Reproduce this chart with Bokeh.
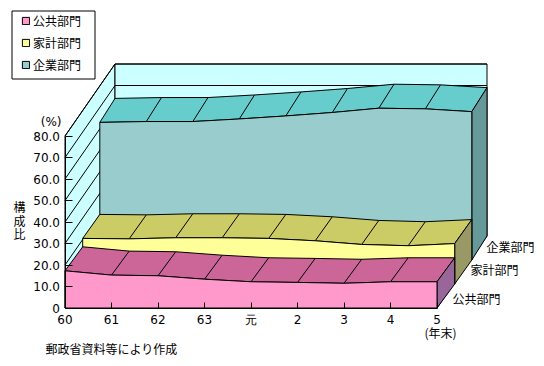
from bokeh.plotting import figure
from bokeh.models import Legend, LegendItem, Label, FixedTicker, LinearAxis
from bokeh.embed import file_html
from bokeh.resources import INLINE

years = ["60", "61", "62", "63", "元", "2", "3", "4", "5"]
public = [17.3, 15.3, 15.0, 13.4, 12.2, 11.9, 11.5, 12.2, 12.2]
household = [21.2, 21.0, 21.5, 21.5, 21.2, 20.1, 18.4, 17.8, 18.8]
enterprise = [64.0, 64.4, 64.4, 65.6, 67.0, 68.6, 70.6, 70.3, 69.0]
y_ticks = [0, 10, 20, 30, 40, 50, 60, 70, 80]
names = ["公共部門", "家計部門", "企業部門"]

JP = "Noto Sans CJK JP"
NUM = "DejaVu Sans"
PX_X = 46.5   # px per category
PX_Y = 2.15   # px per percent
W, H = 540, 360
X0, Y0 = 64.5, 307.5   # page pixel of the origin
DEPTH_X = [v / PX_X for v in (0, 17.7, 34.8, 50)]
DEPTH_Y = [v / PX_Y for v in (0, 24, 48, 72)]

p = figure(width=W, height=H, output_backend="svg", toolbar_location=None,
           x_range=(-X0 / PX_X, (W - X0) / PX_X), y_range=((Y0 - H) / PX_Y, Y0 / PX_Y),
           min_border=0, x_axis_type=None, y_axis_type=None)
p.outline_line_color = None
p.grid.visible = False

# axes
xa = LinearAxis(fixed_location=0)
xa.ticker = FixedTicker(ticks=list(range(len(years))))
xa.major_label_overrides = {i: s for i, s in enumerate(years)}
xa.bounds = (0, 8)
ya = LinearAxis(fixed_location=0)
ya.ticker = FixedTicker(ticks=y_ticks)
ya.major_label_overrides = {v: ("0" if v == 0 else f"{v}.0") for v in y_ticks}
ya.bounds = (0, 80)
xa.major_tick_in = 6
xa.major_tick_out = 0
ya.major_tick_in = 7
ya.major_tick_out = 0
for a in (xa, ya):
    a.minor_tick_line_color = None
    a.axis_line_color = "black"
    a.major_tick_line_color = "black"
    a.major_label_text_color = "black"
    a.major_label_text_font = NUM
    a.major_label_text_font_size = "12px"
    a.major_label_standoff = 5
p.add_layout(xa, "below")
p.add_layout(ya, "left")

n = len(years)
xs = list(range(n))
WALL = "#CCFFFF"
# walls
dx3, dy3 = DEPTH_X[3], DEPTH_Y[3]
p.patch([0, 0, dx3, dx3], [0, 80, 80 + dy3, dy3], fill_color=WALL, line_color="black")
p.patch([dx3, dx3, 8 + dx3, 8 + dx3], [dy3, 80 + dy3, 80 + dy3, dy3],
        fill_color=WALL, line_color="black")
p.multi_line([[0, dx3] for _ in y_ticks], [[v, v + dy3] for v in y_ticks], line_color="black")
p.multi_line([[dx3, 8 + dx3] for _ in y_ticks], [[v + dy3, v + dy3] for v in y_ticks],
             line_color="black")
p.line([8, 8 + dx3], [0, dy3], line_color="black")


def band(vals, d0, d1, front, top, side):
    x0, x1, y0, y1 = DEPTH_X[d0], DEPTH_X[d1], DEPTH_Y[d0], DEPTH_Y[d1]
    fx = [x + x0 for x in xs]
    fy = [v + y0 for v in vals]
    bx = [x + x1 for x in xs]
    by = [v + y1 for v in vals]
    p.patch(fx + bx[::-1], fy + by[::-1], fill_color=top, line_color="black")
    p.multi_line([[fx[i], bx[i]] for i in xs[1:-1]], [[fy[i], by[i]] for i in xs[1:-1]],
                 line_color="black")
    p.patch([fx[-1], bx[-1], bx[-1], fx[-1]], [fy[-1], by[-1], y1, y0],
            fill_color=side, line_color="black")
    return p.patch([fx[0]] + fx + [fx[-1]], [y0] + fy + [y0],
                   fill_color=front, line_color="black")


r3 = band(enterprise, 2, 3, "#99CCCC", "#66CCCC", "#669999")
r2 = band(household, 1, 2, "#FFFF99", "#CCCC66", "#999966")
r1 = band(public, 0, 1, "#FF99CC", "#CC6699", "#996699")

# legend frame: drawn behind the legend's own (unframed) entries
def px_x(v):
    return (v - X0) / PX_X
def px_y(v):
    return (Y0 - v) / PX_Y
p.quad(left=[px_x(11.5)], right=[px_x(94.5)], top=[px_y(10.5)], bottom=[px_y(78.5)],
       fill_color="white", line_color="black")

legend = Legend(items=[LegendItem(label=names[0], renderers=[r1]),
                       LegendItem(label=names[1], renderers=[r2]),
                       LegendItem(label=names[2], renderers=[r3])],
                location=(21, H - 73), margin=0, padding=10, spacing=5,
                glyph_width=9, glyph_height=9, label_standoff=3,
                label_text_font=JP, label_text_font_size="12px",
                label_text_color="black", label_height=12,
                border_line_color=None, background_fill_alpha=0)
p.add_layout(legend, "center")


def note(text, px, py, align="left", font=JP):
    # px, py: page pixels of the text's anchor / vertical middle
    p.add_layout(Label(x=px_x(px), y=px_y(py), text=text,
                       text_font=font, text_font_size="12px", text_color="black",
                       text_align=align, text_baseline="middle"))


note("(%)", 61, 121, "right", NUM)
for ch, py in zip("構成比", (206, 220, 233)):
    note(ch, 19, py, "center")
note(names[2], 486, 246)
note(names[1], 470, 269)
note(names[0], 452, 298)
note("(年末)", 440, 332, "center")
note("郵政省資料等により作成", 45, 348)

open("out.html", "w").write(file_html(p, INLINE))
